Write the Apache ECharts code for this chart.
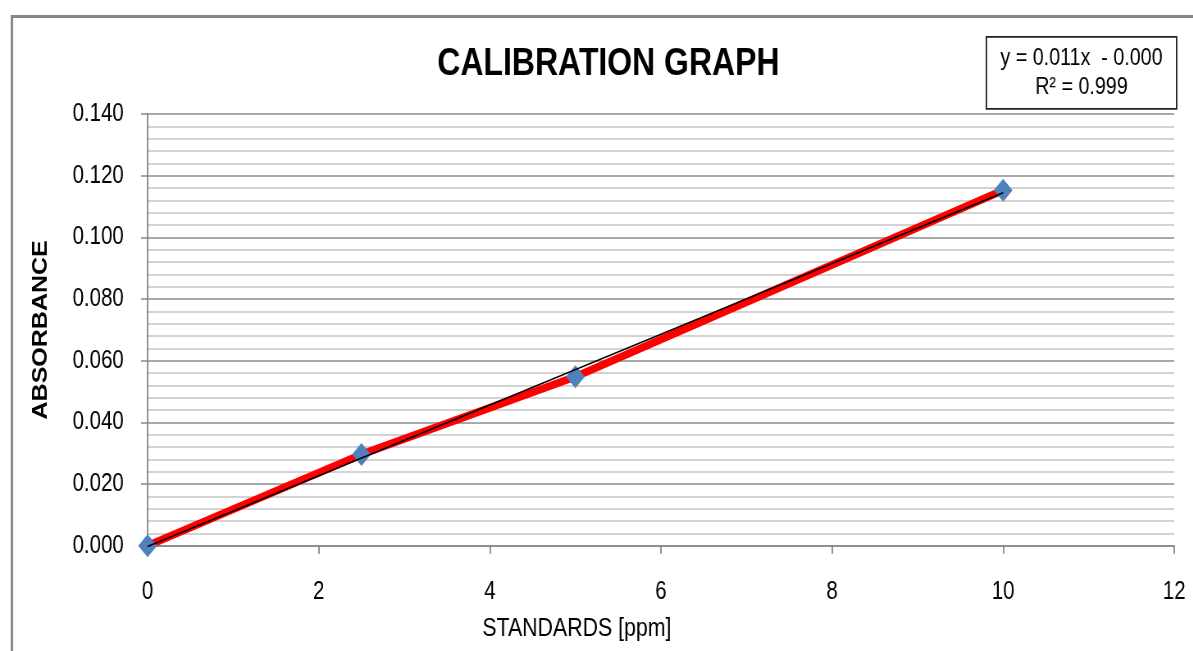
<!DOCTYPE html>
<html>
<head>
<meta charset="utf-8">
<title>Calibration Graph</title>
<script src="https://cdn.jsdelivr.net/npm/echarts@6/dist/echarts.min.js"></script>
<style>
  html, body { margin: 0; padding: 0; background: #ffffff; overflow: hidden; width: 1193px; height: 651px; }
  /* The chart is laid out on a wider canvas and condensed horizontally,
     giving the narrow lettering and tall diamond markers of the original sheet. */
  #chart { width: 1455px; height: 651px; transform: scaleX(0.82); transform-origin: 0 0; }
</style>
</head>
<body>
<div id="chart"></div>
<script>
// Standards concentration (ppm) and measured absorbance
const standardsPpm = [0, 2.5, 5, 10];
const absorbance = [0.0, 0.0296, 0.0548, 0.1153];

// Axis ticks
const xTicks = [0, 2, 4, 6, 8, 10, 12];
const yTicks = [0.0, 0.02, 0.04, 0.06, 0.08, 0.1, 0.12, 0.14];

const FONT = "'Liberation Sans', Arial, sans-serif";

// Least-squares linear trend through the standards
function linearFit(xs, ys) {
  const n = xs.length;
  const mx = xs.reduce((a, b) => a + b, 0) / n;
  const my = ys.reduce((a, b) => a + b, 0) / n;
  let sxx = 0, sxy = 0, syy = 0;
  for (let i = 0; i < n; i++) {
    sxx += (xs[i] - mx) * (xs[i] - mx);
    sxy += (xs[i] - mx) * (ys[i] - my);
    syy += (ys[i] - my) * (ys[i] - my);
  }
  const slope = sxy / sxx;
  const intercept = my - slope * mx;
  const r2 = (sxy * sxy) / (sxx * syy);
  return { slope, intercept, r2 };
}

const fit = linearFit(standardsPpm, absorbance);
const xMin = Math.min(...standardsPpm);
const xMax = Math.max(...standardsPpm);
const trendData = [
  [xMin, fit.slope * xMin + fit.intercept],
  [xMax, fit.slope * xMax + fit.intercept]
];
const sign = fit.intercept < 0 ? '-' : '+';
const eqText = 'y = ' + fit.slope.toFixed(3) + 'x  ' + sign + ' ' + Math.abs(fit.intercept).toFixed(3);
const r2Text = 'R\u00B2 = ' + fit.r2.toFixed(3);

const pointData = standardsPpm.map((x, i) => [x, absorbance[i]]);

const chart = echarts.init(document.getElementById('chart'), null, { renderer: 'canvas' });

chart.setOption({
  animation: false,
  backgroundColor: '#ffffff',
  title: {
    text: 'CALIBRATION GRAPH',
    left: 737,
    top: 40,
    textAlign: 'center',
    textStyle: { fontFamily: FONT, fontSize: 39, fontWeight: 'bold', color: '#000000' }
  },
  grid: { left: 180, right: 23, top: 114, bottom: 105.3, containLabel: false },
  xAxis: {
    type: 'value',
    min: xTicks[0],
    max: xTicks[xTicks.length - 1],
    interval: xTicks[1] - xTicks[0],
    name: 'STANDARDS [ppm]',
    nameLocation: 'middle',
    nameGap: 70,
    nameTextStyle: {
      fontFamily: FONT, fontSize: 26, color: '#000000', verticalAlign: 'top',
      padding: [0, 205, 0, 0]
    },
    axisLine: { show: true, onZero: false, lineStyle: { color: '#868686', width: 1.5 } },
    axisTick: { show: true, inside: false, length: 8, lineStyle: { color: '#868686', width: 1.8 } },
    axisLabel: { margin: 34, fontFamily: FONT, fontSize: 25, color: '#000000', formatter: v => String(v) },
    splitLine: { show: false }
  },
  yAxis: {
    type: 'value',
    min: yTicks[0],
    max: yTicks[yTicks.length - 1],
    interval: yTicks[1] - yTicks[0],
    name: 'ABSORBANCE',
    nameLocation: 'middle',
    nameGap: 117,
    nameRotate: 90,
    nameTextStyle: { fontFamily: FONT, fontSize: 25, fontWeight: 'bold', color: '#000000' },
    axisLine: { show: true, lineStyle: { color: '#868686', width: 1.8 } },
    axisTick: { show: true, inside: false, length: 8, lineStyle: { color: '#868686', width: 1.5 } },
    axisLabel: { margin: 29, fontFamily: FONT, fontSize: 25, color: '#000000', formatter: v => v.toFixed(3) },
    splitLine: { show: true, lineStyle: { color: '#8c8c8c', width: 1.5 } },
    minorTick: { show: false, splitNumber: 5 },
    minorSplitLine: { show: true, lineStyle: { color: '#c4c4c4', width: 1.5 } }
  },
  series: [
    {
      name: 'Standards',
      type: 'line',
      data: pointData,
      symbol: 'diamond',
      symbolSize: 23,
      showSymbol: true,
      clip: false,
      lineStyle: { color: '#ff0000', width: 8 },
      itemStyle: { color: '#4f81bd', borderWidth: 0 },
      z: 2
    },
    {
      name: 'Linear trend',
      type: 'line',
      data: trendData,
      showSymbol: false,
      symbol: 'none',
      silent: true,
      clip: false,
      lineStyle: { color: '#000000', width: 1.5 },
      z: 3
    }
  ],
  graphic: [
    {
      type: 'rect',
      left: 12,
      top: 14,
      shape: { x: 0, y: 0, width: 1600, height: 800 },
      style: { fill: 'none', stroke: '#878787', lineWidth: 3 },
      silent: true,
      z: 0
    },
    {
      type: 'group',
      left: 1202,
      top: 36,
      children: [
        {
          type: 'rect',
          shape: { x: 0, y: 0, width: 232, height: 72 },
          style: { fill: '#ffffff', stroke: '#222222', lineWidth: 1.8 }
        },
        {
          type: 'text',
          x: 116,
          y: 21,
          style: { text: eqText, fontFamily: FONT, fontSize: 24, fill: '#000000', align: 'center', verticalAlign: 'middle' }
        },
        {
          type: 'text',
          x: 116,
          y: 50,
          style: { text: r2Text, fontFamily: FONT, fontSize: 24, fill: '#000000', align: 'center', verticalAlign: 'middle' }
        }
      ],
      z: 10
    }
  ]
});
</script>
</body>
</html>
